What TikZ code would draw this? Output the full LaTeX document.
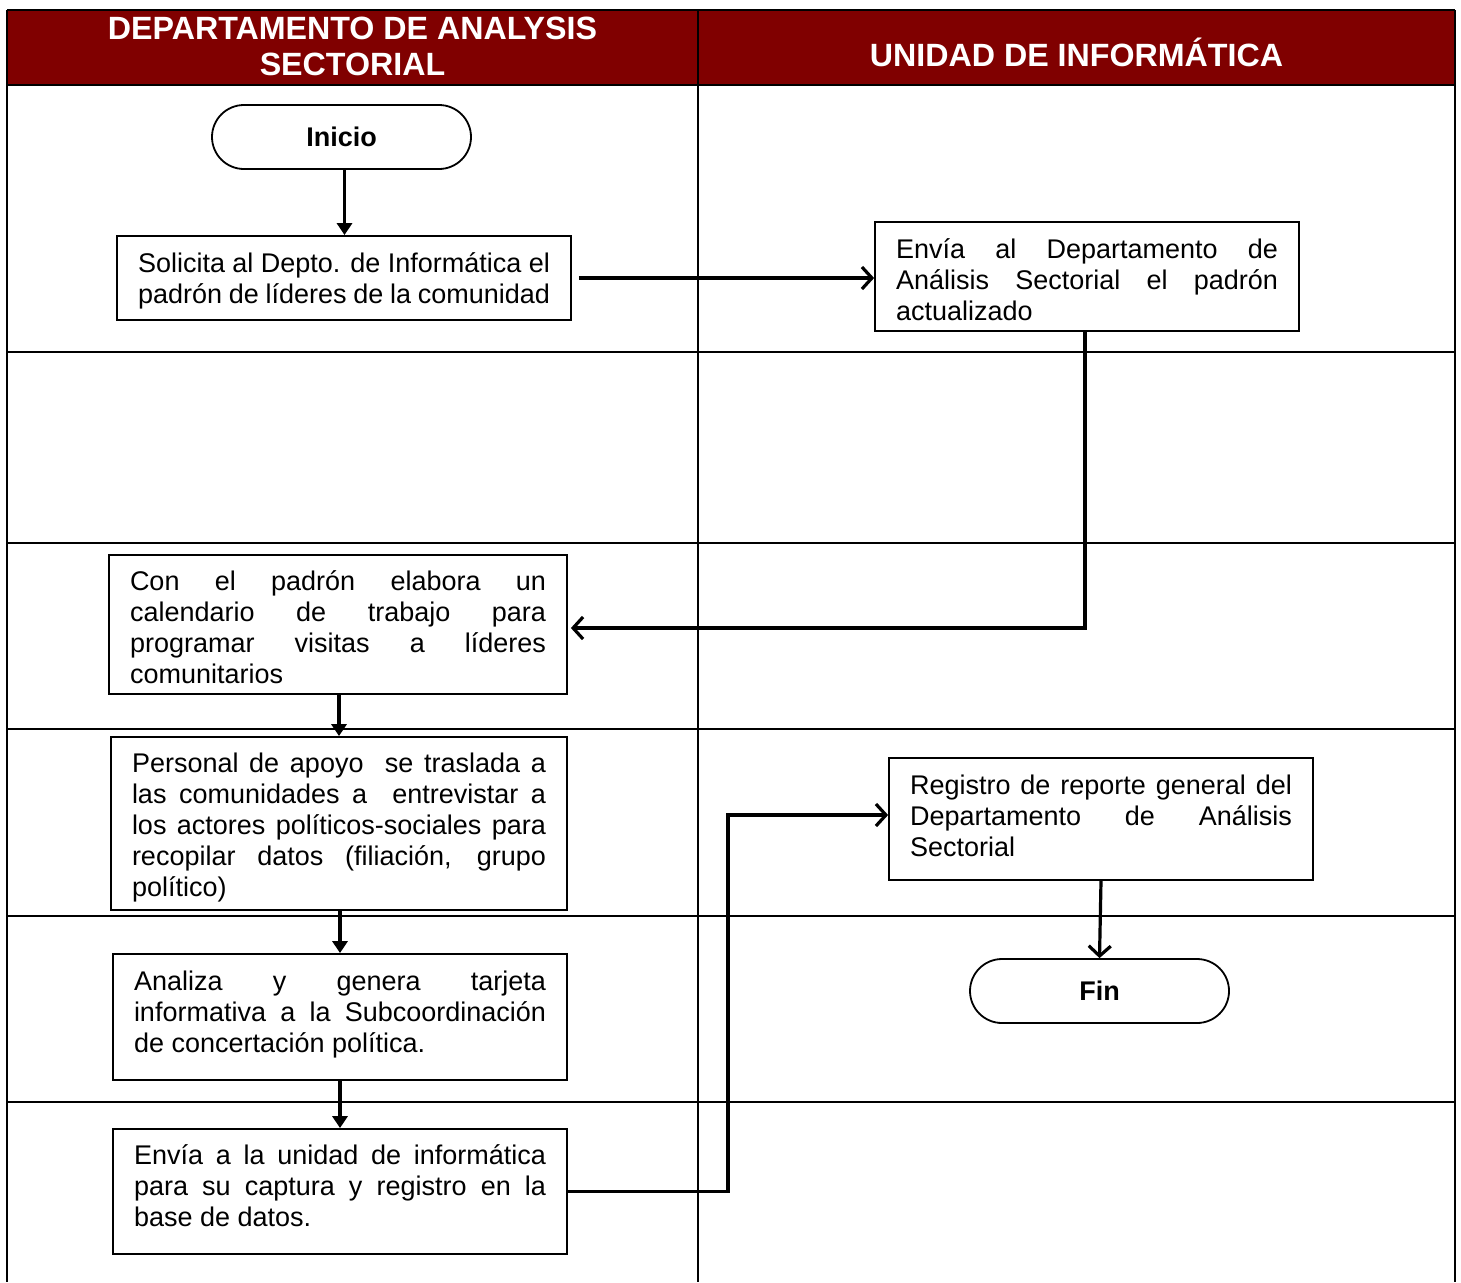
\documentclass[tikz,border=0pt]{standalone}
\usepackage{fontspec}
\setmainfont{Liberation Sans}
\usetikzlibrary{arrows.meta}
\definecolor{hdr}{HTML}{800000}
\newcommand{\topstrut}[1]{\rule{0pt}{#1pt}}
\newcommand{\botstrut}[1]{\rule[-#1pt]{0pt}{0pt}}
\begin{document}
\begin{tikzpicture}[x=1pt,y=-1pt,
  grid/.style={line width=2.4pt,black},
  hdrtext/.style={text=white,font=\fontsize{32.2}{36.5}\selectfont\bfseries,align=center,inner sep=0pt},
  box/.style={draw,line width=1.8pt,align=justify,inner xsep=21pt,inner ysep=0pt,
    font=\fontsize{27}{31}\selectfont},
  term/.style={draw,line width=1.8pt,rounded corners=32pt,minimum width=259pt,minimum height=64pt,
    inner sep=0pt,font=\fontsize{27}{31}\selectfont\bfseries},
  flow/.style={line width=3.2pt},
  filled/.style={flow,-{Triangle[length=12pt,width=15pt]}},
  openarr/.style={flow,-{Straight Barb[length=10pt,width=22pt,line width=3.2pt]}}]
\useasboundingbox (0,0) rectangle (1461,1282);
% table
\fill[hdr] (7,10) rectangle (1455,85);
\draw[grid] (7,10) -- (1455,10);
\draw[grid] (7,85) -- (1455,85);
\foreach \yy in {352,543,729,916,1102} \draw[grid] (7,\yy) -- (1455,\yy);
\draw[grid] (7,10) -- (7,1282);
\draw[grid] (698,10) -- (698,1282);
\draw[grid] (1455,10) -- (1455,1282);
% headers
\node[hdrtext] (h1) at (352.5,46.5) {DEPARTAMENTO DE ANALYSIS\\SECTORIAL};
\node[hdrtext] (h2) at (1076.5,52) {UNIDAD DE INFORMÁTICA};
% nodes
\node[term] (inicio) at (341.5,137) {Inicio};
\node[box,text width=412pt,minimum height=84pt] (solicita) at (344,278)
  {\topstrut{26}Solicita al Depto. de Informática el\linebreak padrón de líderes de la comunidad};
\node[box,text width=382pt,minimum height=109pt] (envia) at (1087,276.5)
  {\topstrut{26}Envía al Departamento de\linebreak Análisis Sectorial el padrón\linebreak actualizado};
\node[box,text width=416pt,minimum height=139pt] (con) at (338,624.5)
  {\topstrut{26}Con el padrón elabora un\linebreak calendario de trabajo para\linebreak programar visitas a líderes\linebreak comunitarios};
\node[box,text width=414pt,minimum height=173pt] (personal) at (339,823.5)
  {\topstrut{28}Personal de apoyo\ \ se traslada a\linebreak las comunidades a\ \ entrevistar a\linebreak los actores políticos-sociales para\linebreak recopilar datos (filiación, grupo\linebreak político)};
\node[box,text width=412pt,minimum height=126pt] (analiza) at (340,1017)
  {Analiza y genera tarjeta\linebreak informativa a la Subcoordinación\linebreak de concertación política.\botstrut{10}};
\node[box,text width=412pt,minimum height=125pt] (envia2) at (340,1191.5)
  {Envía a la unidad de informática\linebreak para su captura y registro en la\linebreak base de datos.\botstrut{12}};
\node[box,text width=382pt,minimum height=122pt] (registro) at (1101,819)
  {Registro de reporte general del\linebreak Departamento de Análisis\linebreak Sectorial\botstrut{6}};
\node[term] (fin) at (1099.5,991) {Fin};
\coordinate (bendx) at (728,0);
% connectors
\draw[filled] ([xshift=3pt]inicio.south) -- ([xshift=3pt]inicio.south |- solicita.north);
\draw[openarr,shorten <=7pt] (solicita.east) -- (solicita.east -| envia.west);
\draw[openarr] ([xshift=-2pt]envia.south) |- ([xshift=3pt,yshift=-3.5pt]con.east);
\draw[filled] (personal.north |- con.south) -- (personal.north);
\draw[filled] (personal.south -| analiza.north) -- (analiza.north);
\draw[filled] (analiza.south) -- (envia2.north);
\draw[openarr] (envia2.east) -- (envia2.east -| bendx) |- ([yshift=4pt]registro.west);
\draw[openarr] (registro.south) -- (fin.north);
\end{tikzpicture}
\end{document}
